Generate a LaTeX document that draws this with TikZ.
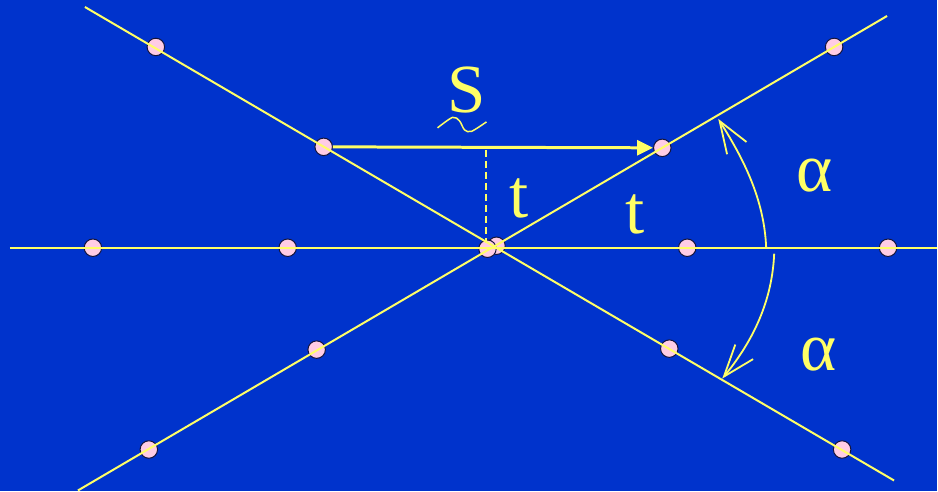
\documentclass[tikz,border=0pt]{standalone}
\usepackage{fontspec}
\setmainfont{Liberation Serif}
\usetikzlibrary{arrows.meta}
\definecolor{slideblue}{RGB}{0,51,204}
\definecolor{rayyellow}{RGB}{255,255,102}
\definecolor{dotpink}{RGB}{255,204,229}
\definecolor{dotrim}{RGB}{20,20,60}

\begin{document}
\begin{tikzpicture}[
    x=1pt, y=-1pt,
    dot/.style={circle, draw=dotrim, fill=dotpink, line width=1pt, minimum size=17.5pt, inner sep=0pt},
    ray/.style={draw=rayyellow, line width=2pt},
    lbl/.style={text=rayyellow, inner sep=0pt, font=\fontsize{69}{72}\selectfont},
    swing/.style={ray, line width=1.8pt, -{Straight Barb[length=32pt,width=23pt,line width=1.8pt]}}
]

\fill[slideblue] (0,0) rectangle (938,492);

% dots on the three lines
\node[dot] (h1) at (93,248) {};
\node[dot] (h2) at (288,248) {};
\node[dot] (h3) at (688,248) {};
\node[dot] (h4) at (889,248) {};
\node[dot] (u1) at (149,450) {};
\node[dot] (u2) at (317,350) {};
\node[dot] (u3) at (663,148) {};
\node[dot] (u4) at (835,47) {};
\node[dot] (d1) at (156,47) {};
\node[dot] (d2) at (324,147) {};
\node[dot] (d3) at (670,349) {};
\node[dot] (d4) at (843,450) {};
\node[dot] (o2) at (497,246) {};
\node[dot] (o1) at (488,249) {};

% line ends
\coordinate (hl) at (10,248.5);
\coordinate (hr) at (938,248.5);
\coordinate (ul) at (78,491);
\coordinate (ur) at (888,16);
\coordinate (dl) at (85,7);
\coordinate (dr) at (895,481);

\draw[ray] (hl) -- (hr);
\draw[ray] (ul) -- (ur);
\draw[ray] (dl) -- (dr);

% shift S and its height t
\draw[ray, line width=3pt, -{Triangle[length=16pt,width=15pt]}] (d2) -- (u3);
\coordinate (sfoot) at (487,150);
\coordinate (sbase) at (487,243);
\draw[ray, dash pattern=on 7pt off 4pt] (sfoot) -- (sbase);

\node[lbl] (S) at (467,90) {S};
\draw[ray, line width=1.5pt] plot[smooth] coordinates {(438,128) (453,117.5) (460,121) (465,130) (472,131.5) (487,122)};
\node[lbl] (t1) at (520,199) {t};
\node[lbl] (t2) at (636,215) {t};

% angles
\coordinate (up0) at (767,248);
\coordinate (up1) at (719,119);
\coordinate (dn0) at (775,254);
\coordinate (dn1) at (723,379);
\draw[swing] (up0) .. controls (765,200) and (745,160) .. (up1);
\draw[swing] (dn0) .. controls (773,300) and (755,340) .. (dn1);

\node[lbl] (a1) at (815,176) {α};
\node[lbl] (a2) at (819,355) {α};

\end{tikzpicture}
\end{document}
